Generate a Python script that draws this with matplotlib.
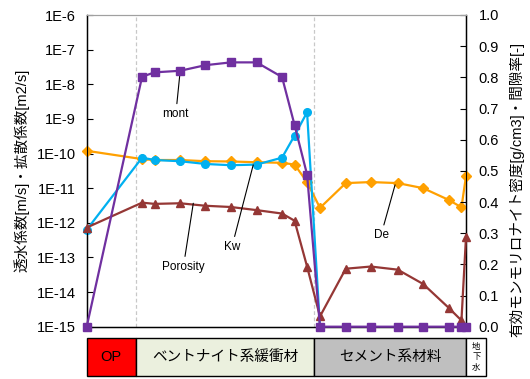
import numpy as np
import matplotlib
matplotlib.use("Agg")
import matplotlib.pyplot as plt
from matplotlib.patches import Rectangle
from matplotlib.ticker import FixedLocator, FixedFormatter

plt.rcParams['font.family'] = ['Liberation Sans', 'Noto Sans CJK JP', 'DejaVu Sans']

# Positions of the calculation nodes across the barrier system
pos = [0, 14.6, 17.9, 24.6, 31.3, 38.0, 44.8, 51.5, 54.8, 58.1,
       61.5, 68.3, 74.9, 82.0, 88.7, 95.4, 98.8, 100.0]

# Hydraulic conductivity Kw [m/s] (ends where it drops off the scale)
kw = [6.3e-13, 7.6e-11, 6.5e-11, 6.0e-11, 5.0e-11, 4.6e-11, 4.8e-11, 7.6e-11,
      3.3e-10, 1.55e-9, 1e-15]

# Effective diffusion coefficient De [m2/s]
de = [1.2e-10, 6.9e-11, 6.5e-11, 6.5e-11, 6.0e-11, 5.9e-11, 5.6e-11, 5.4e-11,
      4.8e-11, 1.5e-11, 2.7e-12, 1.4e-11, 1.5e-11, 1.4e-11, 1.0e-11, 4.6e-12,
      2.8e-12, 2.2e-11]

# Effective montmorillonite density [g/cm3]
mont = [0.0, 0.802, 0.816, 0.821, 0.839, 0.848, 0.848, 0.801, 0.647, 0.488,
        0.0, 0.0, 0.0, 0.0, 0.0, 0.0, 0.0, 0.0]

# Porosity [-]
porosity = [0.318, 0.398, 0.394, 0.396, 0.388, 0.384, 0.374, 0.363, 0.340, 0.193,
            0.033, 0.186, 0.193, 0.183, 0.137, 0.061, 0.020, 0.288]

left_ticks = [10.0 ** e for e in range(-15, -5)]
left_labels = ["1E-15", "1E-14", "1E-13", "1E-12", "1E-11", "1E-10",
               "1E-9", "1E-8", "1E-7", "1E-6"]
right_ticks = [i / 10 for i in range(11)]
right_labels = [f"{v:.1f}" for v in right_ticks]

# Material zones along the bottom strip
zone_names = ["OP", "ベントナイト系緩衝材", "セメント系材料", "地下水"]
zone_edges = [0, 12.9, 60.0, 100.0, 105.4]
zone_colors = ["#FF0000", "#EBF0DE", "#BFBFBF", "#FFFFFF"]

c_kw = "#00B0F0"
c_de = "#FFA000"
c_mont = "#7030A0"
c_por = "#953735"

W, H = 530, 379
fig = plt.figure(figsize=(W / 100, H / 100), dpi=100)

x0, x1 = 86.7, 466.0
y_top, y_bot = 15.0, 326.7
ax = fig.add_axes([x0 / W, 1 - y_bot / H, (x1 - x0) / W, (y_bot - y_top) / H])
ax.set_yscale("log")
ax.set_ylim(1e-15, 1e-6)
ax.set_xlim(0, 100)
ax.yaxis.set_major_locator(FixedLocator(left_ticks))
ax.yaxis.set_major_formatter(FixedFormatter(left_labels))
ax.yaxis.set_minor_locator(FixedLocator([]))
ax.set_xticks([])
ax.tick_params(axis="y", direction="in", length=4, width=0.8, pad=8, labelsize=10.5)

for b in (zone_edges[1], zone_edges[2]):
    ax.axvline(b, color="#C8C8C8", lw=0.9, ls=(0, (3, 2)), zorder=0)

ax.plot(pos, de, color=c_de, lw=1.6, marker="D", ms=5, clip_on=False, zorder=3)
ax.plot(pos[:len(kw)], kw, color=c_kw, lw=1.6, marker="o", ms=5.5, clip_on=False, zorder=3)

ax.spines["top"].set_color("#A0A0A0")
for s in ("left", "bottom", "right"):
    ax.spines[s].set_linewidth(1.0)

ax2 = ax.twinx()
ax2.set_ylim(0, 1)
ax2.set_xlim(0, 100)
ax2.yaxis.set_major_locator(FixedLocator(right_ticks))
ax2.yaxis.set_major_formatter(FixedFormatter(right_labels))
ax2.tick_params(axis="y", direction="in", length=4, width=0.8, pad=9, labelsize=10.5)
ax2.spines["top"].set_color("#A0A0A0")
ax2.plot(pos, porosity, color=c_por, lw=1.6, marker="^", ms=6, clip_on=False, zorder=3)
ax2.plot(pos, mont, color=c_mont, lw=1.6, marker="s", ms=5.5, clip_on=False, zorder=4)

line_kw = dict(arrowstyle="-", color="black", lw=0.8, shrinkA=1, shrinkB=0)
ax2.annotate("mont", xy=(24.6, 0.815), xytext=(23.5, 0.683), ha="center", va="center",
             fontsize=8.5, arrowprops=line_kw)
ax2.annotate("Kw", xy=(43.9, 0.519), xytext=(38.3, 0.257), ha="center", va="center",
             fontsize=8.5, arrowprops=line_kw)
ax2.annotate("Porosity", xy=(28.1, 0.396), xytext=(25.5, 0.193), ha="center", va="center",
             fontsize=8.5, arrowprops=line_kw)
ax2.annotate("De", xy=(81.3, 0.455), xytext=(77.6, 0.294), ha="center", va="center",
             fontsize=8.5, arrowprops=line_kw)

fig.text(22 / W, 1 - 170.5 / H, "透水係数[m/s]・拡散係数[m2/s]", rotation=90,
         ha="center", va="center", fontsize=10.5)
fig.text(517 / W, 1 - 189.5 / H, "有効モンモリロナイト密度[g/cm3]・間隙率[-]", rotation=90,
         ha="center", va="center", fontsize=10.5)

# Bottom strip of material zones, on the same horizontal scale as the plot
band_top, band_bot = 337.7, 376.0
band_right = x0 + (x1 - x0) * zone_edges[-1] / 100
axb = fig.add_axes([x0 / W, 1 - band_bot / H, (band_right - x0) / W, (band_bot - band_top) / H])
axb.set_xlim(zone_edges[0], zone_edges[-1])
axb.set_ylim(0, 1)
axb.axis("off")
for i, name in enumerate(zone_names):
    a, b = zone_edges[i], zone_edges[i + 1]
    axb.add_patch(Rectangle((a, 0), b - a, 1, facecolor=zone_colors[i],
                            edgecolor="black", lw=1.0, clip_on=False))
    if i < 3:
        axb.text((a + b) / 2, 0.5, name, ha="center", va="center", fontsize=10.5)
    else:
        # narrow cell: stack the characters top to bottom
        for k, ch in enumerate(name):
            axb.text((a + b) / 2, 0.78 - k * 0.28, ch, ha="center", va="center",
                     fontsize=6, family=["Noto Sans CJK JP"])

fig.savefig("out.png", dpi=100)
